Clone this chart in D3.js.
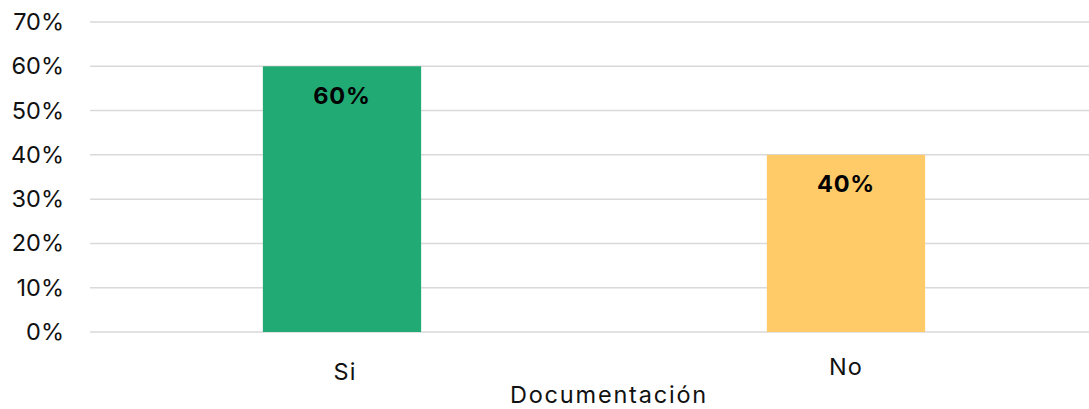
<!DOCTYPE html>
<html>
<head>
<meta charset="utf-8">
<script src="https://cdn.jsdelivr.net/npm/d3@7"></script>
<style>
  html, body { margin: 0; padding: 0; background: #fff; }
  svg { display: block; }
  text { font-family: "Inter", "Liberation Sans", sans-serif; }
</style>
</head>
<body>
<svg id="chart" width="1089" height="409"></svg>
<script>
// Respuestas sobre documentación
const categories = ["Si", "No"];
const shares = [0.60, 0.40];
const barColors = ["#22AA74", "#FFCB69"];
const yTicks = [0, 0.1, 0.2, 0.3, 0.4, 0.5, 0.6, 0.7];
const axisTitle = "Documentación";

const svg = d3.select("#chart");
const plotLeft = 90, plotRight = 1098, plotTop = 22, plotBottom = 332;
const fontSize = 23.5;

const x = d3.scaleBand().domain(categories).range([plotLeft, plotRight]).padding(0);
const y = d3.scaleLinear().domain([0, 0.7]).range([plotBottom, plotTop]);
const barW = x.bandwidth() * 0.314;
const pct = d3.format(".0%");

// horizontal gridlines
svg.append("g")
  .selectAll("line")
  .data(yTicks)
  .join("line")
  .attr("x1", plotLeft).attr("x2", 1089)
  .attr("y1", d => y(d)).attr("y2", d => y(d))
  .attr("stroke", "#d9d9d9").attr("stroke-width", 1.5);

// y axis labels
const yAxis = svg.append("g")
  .attr("transform", `translate(${plotLeft - 26},0)`)
  .call(d3.axisLeft(y).tickValues(yTicks).tickFormat(pct).tickSize(0).tickPadding(0));
yAxis.select(".domain").remove();
yAxis.selectAll("text")
  .attr("font-size", fontSize).attr("fill", "#111")
  .style("font-family", "Inter, 'Liberation Sans', sans-serif");

// bars
svg.append("g")
  .selectAll("rect")
  .data(categories)
  .join("rect")
  .attr("x", d => x(d) + x.bandwidth() / 2 - barW / 2)
  .attr("width", barW)
  .attr("y", (d, i) => y(shares[i]))
  .attr("height", (d, i) => y(0) - y(shares[i]))
  .attr("fill", (d, i) => barColors[i]);

// value labels inside bars
svg.append("g")
  .selectAll("text")
  .data(categories)
  .join("text")
  .attr("x", d => x(d) + x.bandwidth() / 2)
  .attr("y", (d, i) => y(shares[i]) + 37.5)
  .attr("text-anchor", "middle")
  .attr("font-size", fontSize).attr("font-weight", 700).attr("fill", "#000")
  .attr("letter-spacing", 0.8)
  .text((d, i) => pct(shares[i]));

// category labels
const catY = [380, 375];
const catDx = [3, 0];
svg.append("g")
  .selectAll("text")
  .data(categories)
  .join("text")
  .attr("x", (d, i) => x(d) + x.bandwidth() / 2 + catDx[i])
  .attr("y", (d, i) => catY[i])
  .attr("text-anchor", "middle")
  .attr("font-size", fontSize).attr("fill", "#111")
  .attr("letter-spacing", 1)
  .text(d => d);

// axis title
svg.append("text")
  .attr("x", 609).attr("y", 403)
  .attr("text-anchor", "middle")
  .attr("font-size", fontSize).attr("fill", "#111")
  .attr("letter-spacing", 1.8)
  .text(axisTitle);
</script>
</body>
</html>
